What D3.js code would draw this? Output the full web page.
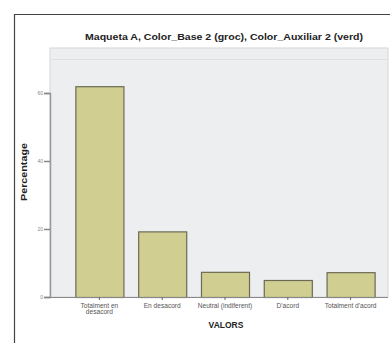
<!DOCTYPE html>
<html><head><meta charset="utf-8">
<script src="https://cdn.jsdelivr.net/npm/d3@7/dist/d3.min.js"></script>
<style>html,body{margin:0;padding:0;background:#fff;}svg{display:block;}</style>
</head><body>
<script>
const categories = ["Totalment en|desacord", "En desacord", "Neutral (indiferent)", "D'acord", "Totalment d'acord"];
const values = [62, 19.3, 7.4, 5, 7.3];
const yTicks = [0, 20, 40, 60];
const title = "Maqueta A, Color_Base 2 (groc), Color_Auxiliar 2 (verd)";
const xTitle = "VALORS";
const yTitle = "Percentage";

const W = 390, H = 343;
const svg = d3.select("body").append("svg").attr("width", W).attr("height", H);

// outer frame
svg.append("path").attr("d", `M14.5,${H} V14.5 H${W}`).attr("fill", "none").attr("stroke", "#444").attr("stroke-width", 1.2);

const plot = {l: 50, r: 388, t: 48, b: 297};
svg.append("rect").attr("x", plot.l).attr("y", plot.t).attr("width", plot.r - plot.l).attr("height", plot.b - plot.t)
  .attr("fill", "#eceef0").attr("stroke", "#d4d6d8").attr("stroke-width", 1);
svg.append("line").attr("x1", plot.l + 2).attr("x2", plot.r).attr("y1", 59.5).attr("y2", 59.5).attr("stroke", "#e2e0dc");

const x = d3.scaleBand().domain(categories).range([68, 382]).paddingInner(0.235).paddingOuter(0.1175);
const y = d3.scaleLinear().domain([0, 60]).range([plot.b, 93]);

svg.selectAll("rect.bar").data(values).join("rect").attr("class", "bar")
  .attr("x", (d, i) => x(categories[i]) + 0.5)
  .attr("y", d => y(d) + 0.5)
  .attr("width", x.bandwidth())
  .attr("height", d => plot.b - y(d))
  .attr("fill", "#d1ce92").attr("stroke", "#6b6a55").attr("stroke-width", 1.2);

// y axis
const ya = svg.append("g").attr("transform", `translate(${plot.l},0)`)
  .call(d3.axisLeft(y).tickValues(yTicks).tickSize(6).tickFormat(d3.format("d")));
ya.select(".domain").attr("stroke", "#999").attr("stroke-width", 1.5);
ya.selectAll(".tick line").attr("stroke", "#888").attr("stroke-width", 1.5);
ya.selectAll(".tick text").attr("fill", "#888").attr("font-size", 5).attr("font-family", "Liberation Sans, Arial, sans-serif").attr("x", -7);

// x axis
const xa = svg.append("g").attr("transform", `translate(0,${plot.b})`)
  .call(d3.axisBottom(x).tickSize(3).tickFormat(""));
xa.select(".domain").attr("stroke", "#888").attr("stroke-width", 1.2).attr("d", `M${plot.l},0.5H${plot.r}`);
xa.selectAll(".tick line").attr("stroke", "#666");
xa.selectAll(".tick").each(function(d) {
  const lines = d.split("|");
  const t = d3.select(this).append("text").attr("y", 6).attr("text-anchor", "middle")
    .attr("font-size", 6.6).attr("fill", "#555").attr("font-family", "Liberation Sans, Arial, sans-serif");
  lines.forEach((ln, i) => t.append("tspan").attr("x", 0).attr("dy", i === 0 ? "0.71em" : "0.95em").text(ln));
});

svg.append("text").attr("x", 224).attr("y", 40).attr("text-anchor", "middle")
  .attr("font-family", "Liberation Sans, Arial, sans-serif").attr("font-weight", "bold").attr("font-size", 8.2)
  .attr("fill", "#222").attr("textLength", 278).attr("lengthAdjust", "spacingAndGlyphs").text(title);

svg.append("text").attr("x", 226).attr("y", 328).attr("text-anchor", "middle")
  .attr("font-family", "Liberation Sans, Arial, sans-serif").attr("font-weight", "bold").attr("font-size", 8.5)
  .attr("fill", "#222").text(xTitle);

svg.append("text").attr("transform", "translate(27,172) rotate(-90)").attr("text-anchor", "middle")
  .attr("font-family", "Liberation Sans, Arial, sans-serif").attr("font-weight", "bold").attr("font-size", 8.5)
  .attr("fill", "#222").attr("textLength", 58).attr("lengthAdjust", "spacingAndGlyphs").text(yTitle);
</script>
</body></html>
